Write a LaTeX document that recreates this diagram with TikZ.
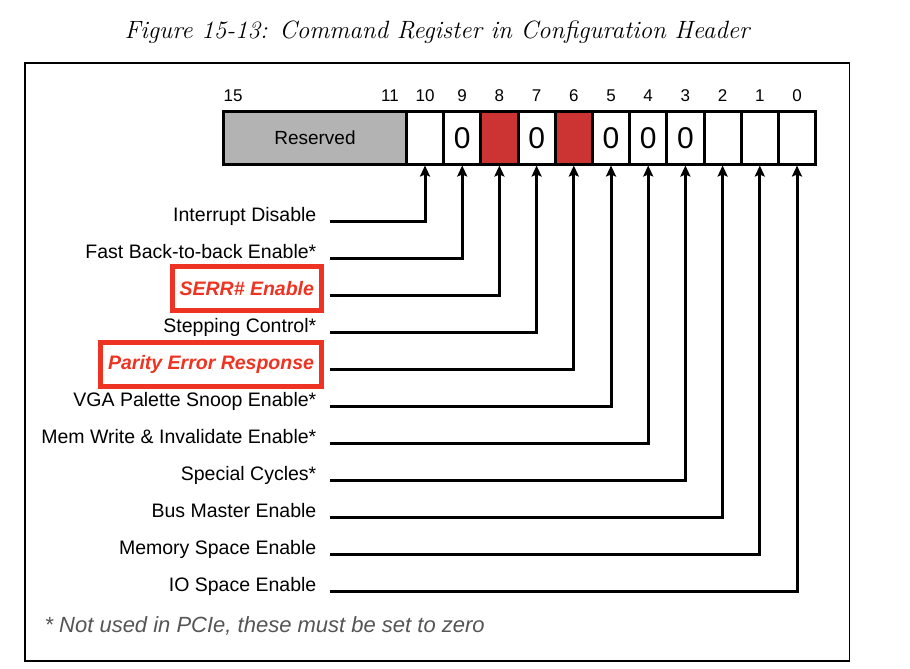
\documentclass[tikz,border=0pt]{standalone}
\usepackage{fontspec}
\setsansfont{Liberation Sans}
\usetikzlibrary{arrows.meta}
\definecolor{bitred}{HTML}{CC3333}
\definecolor{markred}{HTML}{EE3322}
\definecolor{resgray}{HTML}{B3B3B3}
\definecolor{notegray}{HTML}{555555}

\tikzset{
  bitcell/.style={draw,line width=3bp,minimum width=37.2bp,minimum height=52.5bp,inner sep=0pt,
    font=\sffamily\fontsize{30bp}{30bp}\selectfont},
  bitnum/.style={font=\sffamily\fontsize{17bp}{17bp}\selectfont},
  field/.style={anchor=base east,inner xsep=7.5bp,font=\sffamily\fontsize{19.5bp}{20bp}\selectfont},
  hilite/.style={field,draw=markred,line width=5bp,text=markred,minimum height=44bp,
    font=\sffamily\bfseries\itshape\fontsize{19.5bp}{20bp}\selectfont},
  conn/.style={line width=3bp,-{Stealth[length=11bp,width=10bp,inset=2bp]},shorten <=6bp}
}

\begin{document}
\begin{tikzpicture}[x=1bp,y=-1bp]
      \useasboundingbox (0,0) rectangle (910,669);
      \draw[line width=1.5bp] (25,63) rectangle (849.5,661);
      \node[font=\itshape\fontsize{25bp}{25bp}\selectfont] (title) at (437,32)
        {Figure 15-13: Command Register in Configuration Header};

      % register
      \node[bitcell,fill=resgray,minimum width=182.9bp,font=\sffamily\fontsize{19bp}{19bp}\selectfont]
        (res) at (314.95,137.75) {Reserved};
      \foreach \i/\c/\v in {0/white/,1/white/,2/white/,3/white/0,4/white/0,5/white/0,
                            6/bitred/,7/white/0,8/bitred/,9/white/0,10/white/} {
        \node[bitcell,fill=\c] (b\i) at (797-37.2*\i,137.75) {\v};
      }

      % bit numbers
      \node[bitnum] (n15) at (233,96) {15};
      \node[bitnum] (n11) at (390,96) {11};
      \foreach \i in {0,...,10} {
        \node[bitnum] (n\i) at (797-37.2*\i,96) {\i};
      }

      % field names
      \foreach \b/\txt in {10/Interrupt Disable, 9/Fast Back-to-back Enable*, 7/Stepping Control*,
                           5/VGA Palette Snoop Enable*, 4/Mem Write \& Invalidate Enable*,
                           3/Special Cycles*, 2/Bus Master Enable, 1/Memory Space Enable,
                           0/IO Space Enable} {
        \node[field] (f\b) at (324,{221.7+37*(10-\b)}) {\txt};
        \draw[conn] (f\b.base east) -| (b\b.south);
      }
      \node[hilite] (f8) at (324,295.7) {SERR\# Enable};
      \draw[conn] (f8.base east) -| (b8.south);
      \node[hilite] (f6) at (324,369.7) {Parity Error Response};
      \draw[conn] (f6.base east) -| (b6.south);

      % footnote
      \node[anchor=west,text=notegray,font=\sffamily\itshape\fontsize{22bp}{22bp}\selectfont]
        (note) at (41,626) {* Not used in PCIe, these must be set to zero};
\end{tikzpicture}
\end{document}
